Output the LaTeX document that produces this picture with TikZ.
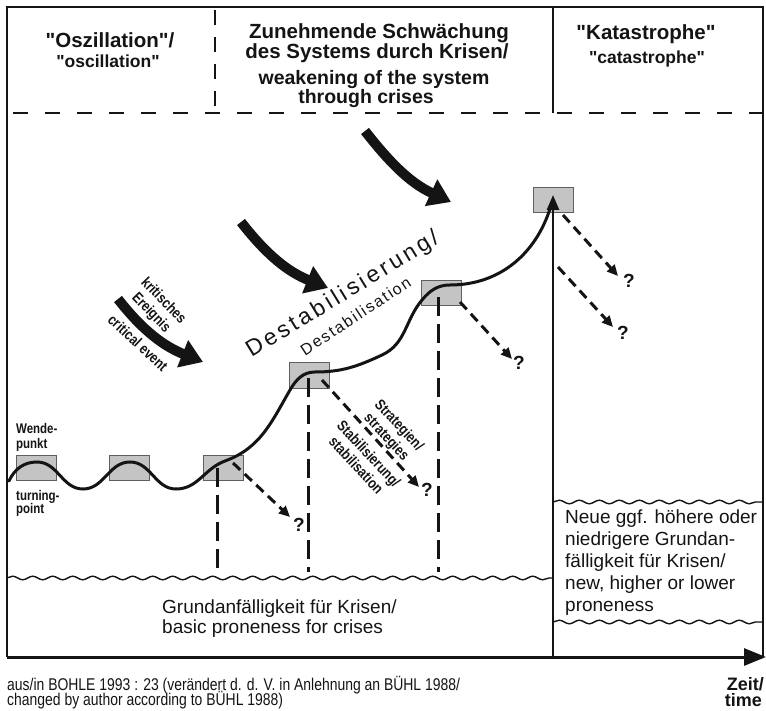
\documentclass[tikz,border=0pt]{standalone}
\usepackage{fontspec}
\setmainfont{Liberation Sans}[Ligatures=TeXOff]
\newfontfamily\narrowfont{Liberation Sans}[FakeStretch=0.82,Ligatures=TeXOff]
\newfontfamily\spacedfont{Liberation Sans}[LetterSpace=14]
\newfontfamily\spacedsmallfont{Liberation Sans}[LetterSpace=11]
\usetikzlibrary{arrows.meta,decorations.pathmorphing}
\definecolor{ink}{RGB}{20,20,20}
\definecolor{boxgray}{RGB}{196,196,196}
\definecolor{boxedge}{RGB}{95,95,95}
\begin{document}
\begin{tikzpicture}[x=1pt,y=1pt,
  every node/.style={inner sep=0pt, text=ink},
  frameline/.style={line width=2pt, draw=ink},
  hdash/.style={line width=1.8pt, draw=ink, dash pattern=on 15pt off 17pt},
  vhdash/.style={line width=1.8pt, draw=ink, dash pattern=on 15pt off 12pt},
  wave/.style={line width=1.4pt, draw=ink, decorate, decoration={snake, segment length=20pt, amplitude=1.8pt}},
  gbox/.style={draw=boxedge, fill=boxgray, line width=1pt, minimum width=40pt, minimum height=25pt},
  curveline/.style={line width=3pt, draw=ink, line cap=round},
  vdash/.style={line width=3pt, draw=ink, dash pattern=on 19pt off 8pt},
  qarrow/.style={line width=3pt, draw=ink, dash pattern=on 10pt off 6pt, -{Triangle[length=11pt,width=10pt]}},
  bigarrow/.style={line width=10pt, draw=ink, -{Triangle[length=22pt,width=28pt]}},
  head/.style={font=\bfseries\fontsize{20.5}{22}\selectfont, anchor=base},
  headsub/.style={font=\bfseries\fontsize{17.5}{20}\selectfont, anchor=base},
  headmid/.style={font=\bfseries\fontsize{19.5}{21}\selectfont, anchor=base},
  bodytext/.style={font=\fontsize{19}{22}\selectfont, anchor=base west},
  smalllabel/.style={font=\narrowfont\bfseries\fontsize{15}{17}\selectfont, align=center},
  pointlabel/.style={font=\narrowfont\bfseries\fontsize{14}{15}\selectfont, anchor=base west},
  qmark/.style={font=\bfseries\fontsize{19}{20}\selectfont},
  foot/.style={font=\narrowfont\fontsize{17}{18}\selectfont, anchor=base west},
  timelabel/.style={font=\bfseries\fontsize{18}{20}\selectfont, anchor=base east}]
\useasboundingbox (0,0) rectangle (766,-711);

% frame and axis
\coordinate (tl) at (6.5,-7);
\coordinate (tr) at (763,-7);
\coordinate (bl) at (6.5,-657);
\coordinate (br) at (763,-657);
\coordinate (axisend) at (766,-657);
\draw[frameline] (bl) -- (tl) -- (tr) -- (br);
\draw[line width=3pt, draw=ink, -{Triangle[length=22pt,width=17pt]}] (bl) -- (axisend);

% header separators
\coordinate (hd1) at (13,-113);
\coordinate (hd2) at (763,-113);
\draw[hdash] (hd1) -- (hd2);
\coordinate (vd1) at (215,-10);
\coordinate (vd2) at (215,-113);
\draw[vhdash] (vd1) -- (vd2);
\coordinate (vs1) at (553,-7);
\coordinate (vs2) at (553,-113);
\draw[line width=2.5pt, draw=ink] (vs1) -- (vs2);

% wavy lines
\coordinate (w1a) at (6.5,-578);
\coordinate (w1b) at (553,-578);
\coordinate (w2a) at (553,-502);
\coordinate (w2b) at (763,-502);
\coordinate (w3a) at (553,-622);
\coordinate (w3b) at (763,-622);
\draw[wave] (w1a) -- (w1b);
\draw[wave] (w2a) -- (w2b);
\draw[wave] (w3a) -- (w3b);

% header texts
\node[head] (h1a) at (110,-48) {"Oszillation"/};
\node[headsub] (h1b) at (108,-68) {"oscillation"};
\node[head] (h2a) at (379,-39) {Zunehmende Schwächung};
\node[head] (h2b) at (377,-59) {des Systems durch Krisen/};
\node[headmid] (h2c) at (374,-85) {weakening of the system};
\node[headmid] (h2d) at (366,-104) {through crises};
\node[head] (h3a) at (646,-40) {"Katastrophe"};
\node[headsub] (h3b) at (647,-64) {"catastrophe"};

% grey boxes
\node[gbox] (b1) at (36,-467.5) {};
\node[gbox] (b2) at (129,-467.5) {};
\node[gbox] (b3) at (223,-467.5) {};
\node[gbox] (b4) at (309.5,-375.5) {};
\node[gbox] (b5) at (441,-293.5) {};
\node[gbox] (b6) at (553,-200.5) {};

% dashed verticals from boxes
\coordinate (d3a) at (217,-468);
\coordinate (d3b) at (217,-572);
\coordinate (d4a) at (308,-378);
\coordinate (d4b) at (308,-572);
\coordinate (d5a) at (438,-297);
\coordinate (d5b) at (438,-572);
\draw[vdash] (d3a) -- (d3b);
\draw[vdash] (d4a) -- (d4b);
\draw[vdash] (d5a) -- (d5b);

% vertical line to the apex
\coordinate (apexbase) at (553,-657);
\coordinate (apex) at (553,-195);
\draw[line width=2.5pt, draw=ink, -{Triangle[length=15pt,width=12pt]}] (apexbase) -- (apex);

% main curve
\coordinate (c0) at (9,-481);
\draw[curveline] (c0) to[out=65,in=180] (37,-462) to[out=0,in=180] (83,-489)
  to[out=0,in=180] (130,-462) to[out=0,in=180] (176,-489)
  to[out=0,in=200] (225,-461) to[out=20,in=240] (290,-390)
  to[out=60,in=180] (315,-372) to[out=0,in=205] (382,-355)
  to[out=25,in=230] (422,-300) to[out=50,in=180] (450,-285)
  to[out=0,in=255] (552,-202);

% question marks and dashed arrows
\node[qmark] (q1) at (299,-525) {?};
\node[qmark] (q2) at (427,-490) {?};
\node[qmark] (q3) at (519,-363) {?};
\node[qmark] (q4) at (629,-281) {?};
\node[qmark] (q5) at (623,-333) {?};
\coordinate (a1s) at (233,-463); \coordinate (a1e) at (290,-517);
\coordinate (a2s) at (322,-380); \coordinate (a2e) at (419,-487);
\coordinate (a3s) at (460,-302); \coordinate (a3e) at (512,-359);
\coordinate (a4s) at (563,-215); \coordinate (a4e) at (618,-276);
\coordinate (a5s) at (558,-267); \coordinate (a5e) at (613,-327);
\draw[qarrow] (a1s) -- (a1e);
\draw[qarrow] (a2s) -- (a2e);
\draw[qarrow] (a3s) -- (a3e);
\draw[qarrow] (a4s) -- (a4e);
\draw[qarrow] (a5s) -- (a5e);

% big curved arrows
\coordinate (k1s) at (118,-299); \coordinate (k1e) at (203,-362);
\coordinate (k2s) at (241,-222); \coordinate (k2e) at (328,-288);
\coordinate (k3s) at (365,-131); \coordinate (k3e) at (451,-202);
\draw[bigarrow] (k1s) to[out=-52,in=158] (k1e);
\draw[bigarrow] (k2s) to[out=-52,in=158] (k2e);
\draw[bigarrow] (k3s) to[out=-52,in=155] (k3e);

% critical event labels
\node[smalllabel, rotate=-46] (ke1) at (157,-307) {kritisches\\Ereignis};
\node[smalllabel, rotate=-43] (ke3) at (138,-343) {critical event};

% destabilisation labels
\node[font=\spacedfont\fontsize{23}{26}\selectfont, rotate=31.5] (ds1) at (343,-295) {Destabilisierung/};
\node[font=\spacedsmallfont\fontsize{16}{18}\selectfont, rotate=33.5] (ds2) at (355.5,-316) {Destabilisation};

% strategies labels
\node[smalllabel, rotate=-47] (st) at (378,-445) {Strategien/\\strategies\\[8pt]Stabilisierung/\\stabilisation};

% turning point labels
\node[pointlabel] (wp1) at (16,-433) {Wende-};
\node[pointlabel] (wp2) at (16,-448) {punkt};
\node[pointlabel] (tp1) at (16,-500) {turning-};
\node[pointlabel] (tp2) at (16,-513) {point};

% proneness texts
\node[bodytext] (g1) at (162,-613) {Grundanfälligkeit für Krisen/};
\node[bodytext] (g2) at (162,-633) {basic proneness for crises};
\node[bodytext] (n1) at (565,-523) {Neue ggf. höhere oder};
\node[bodytext] (n2) at (565,-545) {niedrigere Grundan-};
\node[bodytext] (n3) at (565,-567) {fälligkeit für Krisen/};
\node[bodytext] (n4) at (565,-589) {new, higher or lower};
\node[bodytext] (n5) at (565,-611) {proneness};

% footer
\node[foot] (f1) at (7,-690) {aus/in BOHLE 1993 : 23 (verändert d. d. V. in Anlehnung an BÜHL 1988/};
\node[foot] (f2) at (7,-705) {changed by author according to BÜHL 1988)};
\node[timelabel] (z1) at (764,-690) {Zeit/};
\node[timelabel] (z2) at (762,-706) {time};
\end{tikzpicture}
\end{document}
